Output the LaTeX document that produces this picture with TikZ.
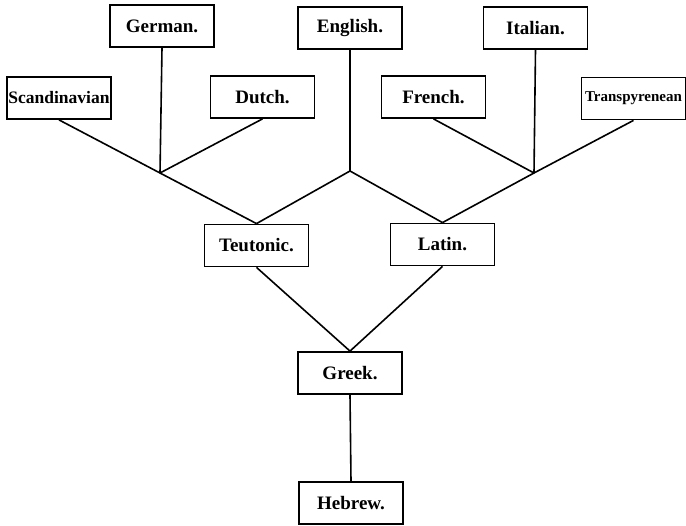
\documentclass[tikz,border=0pt]{standalone}
\usepackage{fontspec}
\setmainfont{Liberation Serif}
\begin{document}
\begin{tikzpicture}[x=1pt, y=-1pt, line width=1.6pt,
  every node/.style={rectangle, draw, line width=1.8pt, inner sep=0pt,
    minimum width=104pt, minimum height=42pt,
    font=\fontsize{19}{19}\selectfont\bfseries},
  smallname/.style={font=\fontsize{17.5}{17.5}\selectfont\bfseries}]
  \useasboundingbox (0,0) rectangle (686,526);

  % top row
  \node (German) at (162, 26) {German.};
  \node (English) at (350, 28) {English.};
  \node (Italian) at (535.5, 28) {Italian.};

  % second row
  \node[smallname] (Scandinavian) at (59, 98) {Scandinavian};
  \node (Dutch) at (262.5, 97) {Dutch.};
  \node (French) at (433.5, 97) {French.};
  \node[font=\fontsize{15}{15}\selectfont\bfseries] (Transpyrenean) at (633.5, 98.5) {Transpyrenean};

  % stems
  \node (Teutonic) at (256.5, 245.5) {Teutonic.};
  \node (Latin) at (442.5, 244.5) {Latin.};
  \node (Greek) at (350, 373) {Greek.};
  \node (Hebrew) at (351, 503) {Hebrew.};

  % junctions
  \coordinate (jT) at (160, 173);
  \coordinate (jE) at (350, 171);
  \coordinate (jL) at (534, 173);

  % Teutonic branch
  \draw (Scandinavian.south) -- (jT) -- (Teutonic.north);
  \draw (German.south) -- (jT);
  \draw (Dutch.south) -- (jT);

  % English
  \draw (English.south) -- (jE);
  \draw (Teutonic.north) -- (jE) -- (Latin.north);

  % Latin branch
  \draw (Transpyrenean.south) -- (jL) -- (Latin.north);
  \draw (Italian.south) -- (jL);
  \draw (French.south) -- (jL);

  % down to the root
  \draw (Teutonic.south) -- (Greek.north) -- (Latin.south);
  \draw (Greek.south) -- (Hebrew.north);
\end{tikzpicture}
\end{document}
